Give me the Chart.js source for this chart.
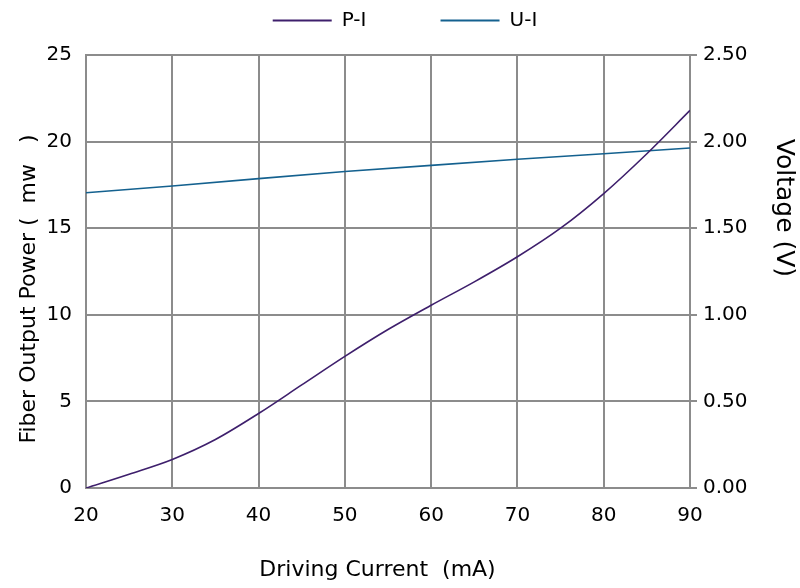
<!DOCTYPE html>
<html>
<head>
<meta charset="utf-8">
<script src="https://cdn.jsdelivr.net/npm/chart.js@4.4.1/dist/chart.umd.min.js"></script>
<style>
  html, body { margin: 0; padding: 0; background: #ffffff; }
  #wrap { width: 800px; height: 588px; }
</style>
</head>
<body>
<div id="wrap"><canvas id="c" width="800" height="588"></canvas></div>
<script>
// ---- data ----
const currentMA = [20, 25, 30, 35, 40, 45, 50, 55, 60, 65, 70, 75, 80, 85, 90];
const powerMW   = [0, 0.8, 1.65, 2.8, 4.3, 5.95, 7.6, 9.15, 10.55, 11.9, 13.35, 15.0, 17.0, 19.3, 21.8];
const uiCurrentMA = [20, 30, 40, 50, 60, 70, 80, 90];
const voltageV    = [1.705, 1.744, 1.786, 1.827, 1.863, 1.898, 1.930, 1.963];
const seriesNames = ['P-I', 'U-I'];
const xTicks = [20, 30, 40, 50, 60, 70, 80, 90];
const yLeftTicks = [0, 5, 10, 15, 20, 25];
const yRightTicks = [0, 0.5, 1.0, 1.5, 2.0, 2.5];
const xTitle = 'Driving Current  (mA)';
const yLeftTitle = 'Fiber Output Power (  mw   )';
const yRightTitle = 'Voltage (V)';

const FONT = 'DejaVu Sans';
const GRID = '#8c8c8c';
const PI_COLOR = '#3e1f6c';
const UI_COLOR = '#14618f';

const piData = currentMA.map((x, i) => ({ x: x, y: powerMW[i] }));
const uiData = uiCurrentMA.map((x, i) => ({ x: x, y: voltageV[i] }));

const legendGap = {
  id: 'legendGap',
  afterInit(chart) {
    const lg = chart.legend;
    if (!lg) return;
    const orig = lg.fit;
    lg.fit = function () {
      orig.call(this);
      this.height += 14.5;
      if (this.lineWidths && this.lineWidths.length) this.lineWidths[0] -= 10;
    };
  }
};

new Chart(document.getElementById('c'), {
  type: 'line',
  data: {
    datasets: [
      {
        label: seriesNames[0],
        data: piData,
        yAxisID: 'y',
        borderColor: PI_COLOR,
        backgroundColor: PI_COLOR,
        borderWidth: 1.6,
        pointRadius: 0,
        cubicInterpolationMode: 'monotone',
        fill: false
      },
      {
        label: seriesNames[1],
        data: uiData,
        yAxisID: 'y2',
        borderColor: UI_COLOR,
        backgroundColor: UI_COLOR,
        borderWidth: 1.6,
        pointRadius: 0,
        tension: 0,
        fill: false
      }
    ]
  },
  options: {
    responsive: false,
    animation: false,
    devicePixelRatio: 1,
    layout: { padding: 0 },
    plugins: {
      tooltip: { enabled: false },
      legend: {
        display: true,
        position: 'top',
        align: 'center',
        labels: {
          font: { family: FONT, size: 20 },
          color: '#000000',
          boxWidth: 59,
          boxHeight: 2,
          padding: 10.5,
          generateLabels(chart) {
            const items = Chart.defaults.plugins.legend.labels.generateLabels(chart);
            items.forEach((it, i) => {
              it.lineWidth = 0;
              it.fillStyle = chart.data.datasets[i].borderColor;
              if (i === 0) it.text = it.text + '          ';
            });
            return items;
          }
        }
      }
    },
    scales: {
      x: {
        type: 'linear',
        position: 'bottom',
        min: 20,
        max: 90,
        afterBuildTicks(scale) { scale.ticks = xTicks.map(v => ({ value: v })); },
        afterFit(scale) { scale.height = 100; },
        grid: { color: GRID, lineWidth: 2, drawTicks: false },
        border: { display: true, color: GRID, width: 2 },
        ticks: { font: { family: FONT, size: 20 }, color: '#000000', padding: 16 },
        title: {
          display: true,
          text: xTitle + '   ',
          font: { family: FONT, size: 22 },
          color: '#000000',
          padding: { top: 0, bottom: 4.4 }
        }
      },
      y: {
        type: 'linear',
        position: 'left',
        min: 0,
        max: 25,
        afterBuildTicks(scale) { scale.ticks = yLeftTicks.map(v => ({ value: v })); },
        afterFit(scale) { scale.width = 86; },
        grid: { color: GRID, lineWidth: 2, drawTicks: false },
        border: { display: true, color: GRID, width: 2 },
        ticks: { font: { family: FONT, size: 20 }, color: '#000000', padding: 14 },
        title: {
          display: true,
          text: yLeftTitle + '     ',
          font: { family: FONT, size: 22 },
          color: '#000000',
          padding: { top: 16.4, bottom: 0 }
        }
      },
      y2: {
        type: 'linear',
        position: 'right',
        min: 0,
        max: 2.5,
        afterBuildTicks(scale) { scale.ticks = yRightTicks.map(v => ({ value: v })); },
        afterFit(scale) { scale.width = 110; },
        grid: { drawOnChartArea: false, drawTicks: true, tickLength: 7, color: GRID, lineWidth: 2 },
        border: { display: true, color: GRID, width: 2 },
        ticks: {
          font: { family: FONT, size: 20 },
          color: '#000000',
          padding: 6,
          callback: v => Number(v).toFixed(2)
        },
        title: {
          display: true,
          text: yRightTitle + '                ',
          font: { family: FONT, size: 25 },
          color: '#000000',
          padding: { top: 1.6, bottom: 0 }
        }
      }
    }
  },
  plugins: [legendGap]
});
</script>
</body>
</html>
